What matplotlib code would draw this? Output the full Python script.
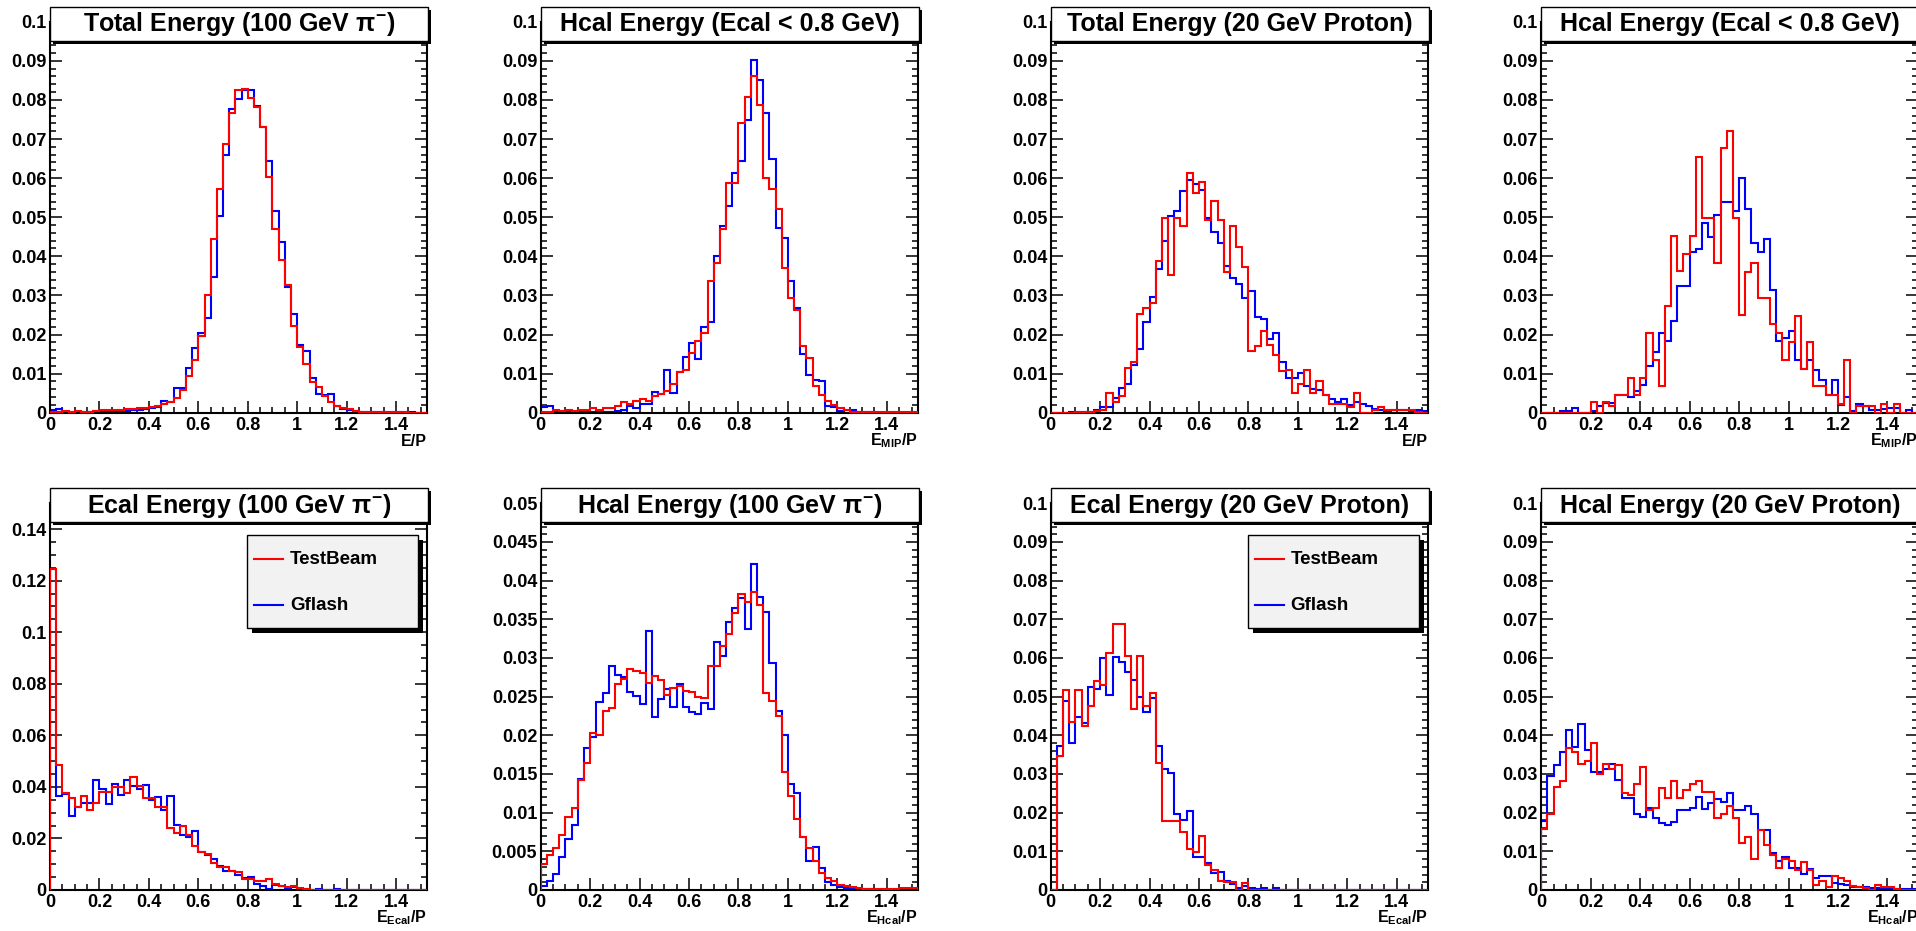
#!/usr/bin/env python3
"""
plot.py
=======
TestBeam vs Gflash response comparison, 8 normalised histograms
(100 GeV pi- and 20 GeV proton), drawn in a ROOT-like style.

Output
------
  out.png
"""
import numpy as np
import matplotlib as mpl
mpl.use("Agg")
import matplotlib.pyplot as plt
from matplotlib.patches import Rectangle
from matplotlib.lines import Line2D
from matplotlib.ticker import MultipleLocator, FuncFormatter

plt.rcParams["font.family"] = ["Liberation Sans", "DejaVu Sans"]
plt.rcParams["font.weight"] = "bold"
plt.rcParams["xtick.labelsize"] = 13
plt.rcParams["ytick.labelsize"] = 13
plt.rcParams["mathtext.fontset"] = "custom"
plt.rcParams["mathtext.rm"] = "Liberation Sans:bold"
plt.rcParams["mathtext.it"] = "Liberation Sans:bold"
plt.rcParams["mathtext.bf"] = "Liberation Sans:bold"
plt.rcParams["mathtext.sf"] = "Liberation Sans:bold"

# ---------------------------------------------------------------- binning
N_BINS = 61
BIN_WIDTH = 0.025
EDGES = np.arange(N_BINS + 1) * BIN_WIDTH

# ---------------------------------------------------------------- data
# top row, col 1: Total Energy (100 GeV pi-)
P1_GFLASH = [0.0008, 0.0010, 0.0002, 0.0003, 0.0002, 0.0002, 0.0003, 0.0003, 0.0002, 0.0003,
             0.0003, 0.0004, 0.0005, 0.0006, 0.0008, 0.0010, 0.0013, 0.0015, 0.0030, 0.0028,
             0.0062, 0.0062, 0.0115, 0.0166, 0.0205, 0.0243, 0.0348, 0.0503, 0.0658, 0.0778,
             0.0803, 0.0825, 0.0825, 0.0785, 0.0730, 0.0644, 0.0517, 0.0436, 0.0322, 0.0252,
             0.0172, 0.0157, 0.0090, 0.0048, 0.0045, 0.0047, 0.0016, 0.0009, 0.0006, 0.0004,
             0.0003, 0.0002, 0.0002, 0.0001, 0.0001, 0.0001, 0.0001, 0.0000, 0.0001, 0.0000, 0.0000]
P1_TESTBEAM = [0.0002, 0.0003, 0.0004, 0.0003, 0.0004, 0.0003, 0.0003, 0.0005, 0.0006, 0.0006,
               0.0007, 0.0008, 0.0010, 0.0010, 0.0011, 0.0013, 0.0015, 0.0018, 0.0022, 0.0028,
               0.0038, 0.0058, 0.0093, 0.0135, 0.0197, 0.0302, 0.0443, 0.0573, 0.0686, 0.0766,
               0.0825, 0.0828, 0.0806, 0.0782, 0.0730, 0.0604, 0.0471, 0.0390, 0.0327, 0.0222,
               0.0168, 0.0124, 0.0079, 0.0065, 0.0042, 0.0028, 0.0018, 0.0012, 0.0009, 0.0004,
               0.0003, 0.0002, 0.0002, 0.0002, 0.0001, 0.0001, 0.0001, 0.0001, 0.0000, 0.0000, 0.0000]

# top row, col 2: Hcal Energy (Ecal < 0.8 GeV), 100 GeV pi-
P2_GFLASH = [0.0015, 0.0018, 0.0003, 0.0003, 0.0003, 0.0003, 0.0003, 0.0003, 0.0003, 0.0003,
             0.0002, 0.0002, 0.0005, 0.0006, 0.0018, 0.0013, 0.0022, 0.0022, 0.0052, 0.0048,
             0.0109, 0.0051, 0.0103, 0.0143, 0.0177, 0.0137, 0.0219, 0.0232, 0.0400, 0.0477,
             0.0529, 0.0614, 0.0645, 0.0749, 0.0903, 0.0850, 0.0766, 0.0648, 0.0472, 0.0448,
             0.0336, 0.0267, 0.0150, 0.0097, 0.0084, 0.0082, 0.0018, 0.0015, 0.0005, 0.0008,
             0.0006, 0.0001, 0.0001, 0.0001, 0.0000, 0.0000, 0.0000, 0.0000, 0.0000, 0.0000, 0.0000]
P2_TESTBEAM = [0.0003, 0.0003, 0.0007, 0.0005, 0.0008, 0.0005, 0.0007, 0.0007, 0.0012, 0.0008,
               0.0012, 0.0012, 0.0017, 0.0028, 0.0022, 0.0030, 0.0035, 0.0030, 0.0042, 0.0047,
               0.0055, 0.0074, 0.0103, 0.0110, 0.0152, 0.0184, 0.0204, 0.0337, 0.0384, 0.0469,
               0.0587, 0.0588, 0.0740, 0.0807, 0.0861, 0.0786, 0.0601, 0.0572, 0.0521, 0.0370,
               0.0293, 0.0262, 0.0171, 0.0141, 0.0068, 0.0045, 0.0029, 0.0019, 0.0013, 0.0008,
               0.0003, 0.0002, 0.0001, 0.0001, 0.0001, 0.0001, 0.0002, 0.0002, 0.0001, 0.0001, 0.0002]

# top row, col 3: Total Energy (20 GeV Proton)
P3_GFLASH = [0.0000, 0.0000, 0.0000, 0.0002, 0.0003, 0.0003, 0.0002, 0.0007, 0.0015, 0.0015,
             0.0037, 0.0063, 0.0074, 0.0122, 0.0164, 0.0233, 0.0295, 0.0368, 0.0438, 0.0502,
             0.0515, 0.0567, 0.0594, 0.0584, 0.0570, 0.0497, 0.0461, 0.0435, 0.0375, 0.0345,
             0.0328, 0.0293, 0.0310, 0.0246, 0.0240, 0.0189, 0.0205, 0.0130, 0.0089, 0.0089,
             0.0102, 0.0068, 0.0060, 0.0057, 0.0046, 0.0035, 0.0028, 0.0035, 0.0019, 0.0027,
             0.0021, 0.0017, 0.0009, 0.0007, 0.0005, 0.0006, 0.0006, 0.0006, 0.0005, 0.0007, 0.0005]
P3_TESTBEAM = [0.0000, 0.0000, 0.0000, 0.0000, 0.0001, 0.0001, 0.0001, 0.0005, 0.0008, 0.0050,
               0.0028, 0.0043, 0.0114, 0.0130, 0.0253, 0.0268, 0.0281, 0.0387, 0.0498, 0.0352,
               0.0498, 0.0477, 0.0613, 0.0563, 0.0590, 0.0492, 0.0541, 0.0492, 0.0359, 0.0477,
               0.0425, 0.0373, 0.0158, 0.0170, 0.0209, 0.0173, 0.0148, 0.0107, 0.0108, 0.0050,
               0.0073, 0.0108, 0.0050, 0.0081, 0.0046, 0.0022, 0.0022, 0.0022, 0.0015, 0.0051,
               0.0000, 0.0000, 0.0008, 0.0015, 0.0007, 0.0008, 0.0008, 0.0008, 0.0008, 0.0002, 0.0000]

# top row, col 4: Hcal Energy (Ecal < 0.8 GeV), 20 GeV proton
P4_GFLASH = [0.0000, 0.0000, 0.0000, 0.0005, 0.0005, 0.0012, 0.0000, 0.0000, 0.0005, 0.0018,
             0.0025, 0.0025, 0.0045, 0.0045, 0.0040, 0.0055, 0.0070, 0.0120, 0.0155, 0.0205,
             0.0183, 0.0235, 0.0325, 0.0325, 0.0410, 0.0419, 0.0486, 0.0450, 0.0506, 0.0540,
             0.0540, 0.0515, 0.0600, 0.0520, 0.0435, 0.0410, 0.0445, 0.0315, 0.0183, 0.0190,
             0.0210, 0.0135, 0.0113, 0.0135, 0.0110, 0.0083, 0.0045, 0.0083, 0.0020, 0.0040,
             0.0005, 0.0022, 0.0018, 0.0008, 0.0008, 0.0009, 0.0013, 0.0013, 0.0000, 0.0008, 0.0000]
P4_TESTBEAM = [0.0000, 0.0000, 0.0000, 0.0000, 0.0000, 0.0000, 0.0000, 0.0000, 0.0027, 0.0000,
               0.0027, 0.0018, 0.0045, 0.0045, 0.0090, 0.0045, 0.0090, 0.0203, 0.0135, 0.0068,
               0.0272, 0.0451, 0.0363, 0.0406, 0.0451, 0.0655, 0.0497, 0.0497, 0.0384, 0.0676,
               0.0721, 0.0497, 0.0250, 0.0360, 0.0384, 0.0294, 0.0294, 0.0226, 0.0203, 0.0135,
               0.0181, 0.0248, 0.0113, 0.0180, 0.0068, 0.0068, 0.0045, 0.0045, 0.0022, 0.0136,
               0.0000, 0.0018, 0.0018, 0.0018, 0.0000, 0.0022, 0.0000, 0.0022, 0.0000, 0.0000, 0.0000]

# bottom row, col 1: Ecal Energy (100 GeV pi-)
P5_GFLASH = [0.1245, 0.0365, 0.0372, 0.0286, 0.0322, 0.0338, 0.0338, 0.0428, 0.0390, 0.0335,
             0.0410, 0.0368, 0.0425, 0.0405, 0.0390, 0.0408, 0.0348, 0.0360, 0.0310, 0.0365,
             0.0252, 0.0212, 0.0206, 0.0228, 0.0147, 0.0136, 0.0120, 0.0093, 0.0072, 0.0072,
             0.0060, 0.0046, 0.0050, 0.0022, 0.0017, 0.0005, 0.0018, 0.0014, 0.0008, 0.0010,
             0.0004, 0.0000, 0.0001, 0.0003, 0.0000, 0.0000, 0.0002, 0.0000, 0.0000, 0.0000,
             0.0000, 0.0000, 0.0000, 0.0000, 0.0000, 0.0000, 0.0000, 0.0000, 0.0000, 0.0000, 0.0000]
P5_TESTBEAM = [0.1245, 0.0484, 0.0377, 0.0355, 0.0322, 0.0363, 0.0309, 0.0337, 0.0380, 0.0380,
               0.0398, 0.0398, 0.0378, 0.0439, 0.0402, 0.0357, 0.0357, 0.0322, 0.0322, 0.0240,
               0.0222, 0.0247, 0.0212, 0.0172, 0.0148, 0.0138, 0.0104, 0.0088, 0.0088, 0.0072,
               0.0069, 0.0044, 0.0041, 0.0036, 0.0036, 0.0044, 0.0022, 0.0017, 0.0013, 0.0015,
               0.0008, 0.0003, 0.0000, 0.0000, 0.0000, 0.0000, 0.0000, 0.0000, 0.0000, 0.0000,
               0.0000, 0.0000, 0.0000, 0.0000, 0.0000, 0.0000, 0.0000, 0.0000, 0.0000, 0.0000, 0.0000]

# bottom row, col 2: Hcal Energy (100 GeV pi-)
P6_GFLASH = [0.0005, 0.0011, 0.0021, 0.0043, 0.0066, 0.0084, 0.0143, 0.0184, 0.0198, 0.0243,
             0.0255, 0.0290, 0.0278, 0.0275, 0.0256, 0.0251, 0.0240, 0.0335, 0.0224, 0.0247,
             0.0260, 0.0236, 0.0266, 0.0236, 0.0230, 0.0227, 0.0242, 0.0234, 0.0321, 0.0303,
             0.0347, 0.0364, 0.0377, 0.0338, 0.0421, 0.0379, 0.0359, 0.0294, 0.0231, 0.0200,
             0.0137, 0.0126, 0.0069, 0.0037, 0.0056, 0.0029, 0.0010, 0.0007, 0.0004, 0.0003,
             0.0002, 0.0001, 0.0001, 0.0001, 0.0000, 0.0000, 0.0000, 0.0000, 0.0000, 0.0000, 0.0000]
P6_TESTBEAM = [0.0033, 0.0045, 0.0054, 0.0071, 0.0095, 0.0106, 0.0142, 0.0164, 0.0203, 0.0201,
               0.0232, 0.0235, 0.0266, 0.0273, 0.0286, 0.0283, 0.0280, 0.0268, 0.0277, 0.0272,
               0.0252, 0.0261, 0.0264, 0.0257, 0.0256, 0.0250, 0.0248, 0.0289, 0.0289, 0.0316,
               0.0331, 0.0358, 0.0383, 0.0373, 0.0385, 0.0368, 0.0255, 0.0244, 0.0225, 0.0152,
               0.0121, 0.0092, 0.0069, 0.0054, 0.0038, 0.0022, 0.0016, 0.0011, 0.0006, 0.0005,
               0.0004, 0.0003, 0.0001, 0.0001, 0.0001, 0.0001, 0.0001, 0.0001, 0.0002, 0.0002, 0.0002]

# bottom row, col 3: Ecal Energy (20 GeV Proton)
P7_GFLASH = [0.0000, 0.0372, 0.0488, 0.0380, 0.0447, 0.0433, 0.0525, 0.0520, 0.0599, 0.0503,
             0.0602, 0.0589, 0.0563, 0.0544, 0.0498, 0.0461, 0.0496, 0.0372, 0.0312, 0.0302,
             0.0197, 0.0180, 0.0204, 0.0086, 0.0086, 0.0071, 0.0044, 0.0047, 0.0022, 0.0016,
             0.0005, 0.0010, 0.0005, 0.0003, 0.0005, 0.0000, 0.0004, 0.0000, 0.0000, 0.0000,
             0.0000, 0.0000, 0.0000, 0.0000, 0.0000, 0.0000, 0.0000, 0.0000, 0.0000, 0.0000,
             0.0000, 0.0000, 0.0000, 0.0000, 0.0000, 0.0000, 0.0000, 0.0000, 0.0000, 0.0000, 0.0000]
P7_TESTBEAM = [0.0000, 0.0347, 0.0518, 0.0434, 0.0518, 0.0423, 0.0476, 0.0541, 0.0531, 0.0614,
               0.0689, 0.0689, 0.0604, 0.0467, 0.0604, 0.0477, 0.0510, 0.0328, 0.0178, 0.0178,
               0.0178, 0.0149, 0.0106, 0.0097, 0.0139, 0.0064, 0.0051, 0.0022, 0.0020, 0.0020,
               0.0000, 0.0019, 0.0000, 0.0000, 0.0000, 0.0000, 0.0000, 0.0000, 0.0000, 0.0000,
               0.0000, 0.0000, 0.0000, 0.0000, 0.0000, 0.0000, 0.0000, 0.0000, 0.0000, 0.0000,
               0.0000, 0.0000, 0.0000, 0.0000, 0.0000, 0.0000, 0.0000, 0.0000, 0.0000, 0.0000, 0.0000]

# bottom row, col 4: Hcal Energy (20 GeV Proton)
P8_GFLASH = [0.0178, 0.0294, 0.0324, 0.0358, 0.0414, 0.0369, 0.0429, 0.0361, 0.0304, 0.0304,
             0.0314, 0.0327, 0.0285, 0.0238, 0.0238, 0.0197, 0.0188, 0.0213, 0.0186, 0.0174,
             0.0167, 0.0176, 0.0206, 0.0208, 0.0211, 0.0240, 0.0210, 0.0226, 0.0236, 0.0227,
             0.0251, 0.0206, 0.0206, 0.0216, 0.0196, 0.0154, 0.0154, 0.0096, 0.0075, 0.0085,
             0.0058, 0.0058, 0.0041, 0.0054, 0.0032, 0.0037, 0.0037, 0.0017, 0.0015, 0.0014,
             0.0008, 0.0009, 0.0008, 0.0004, 0.0004, 0.0004, 0.0004, 0.0003, 0.0003, 0.0003, 0.0003]
P8_TESTBEAM = [0.0158, 0.0197, 0.0266, 0.0282, 0.0366, 0.0357, 0.0327, 0.0334, 0.0381, 0.0301,
               0.0327, 0.0312, 0.0324, 0.0250, 0.0245, 0.0274, 0.0317, 0.0207, 0.0213, 0.0264,
               0.0237, 0.0282, 0.0237, 0.0258, 0.0274, 0.0282, 0.0253, 0.0253, 0.0186, 0.0197,
               0.0216, 0.0186, 0.0122, 0.0136, 0.0079, 0.0154, 0.0116, 0.0091, 0.0056, 0.0079,
               0.0076, 0.0052, 0.0072, 0.0053, 0.0013, 0.0022, 0.0008, 0.0036, 0.0030, 0.0022,
               0.0010, 0.0009, 0.0005, 0.0000, 0.0013, 0.0008, 0.0008, 0.0003, 0.0000, 0.0000, 0.0000]

TITLES = [r"Total Energy (100 GeV $\pi^{-}$)", "Hcal Energy (Ecal < 0.8 GeV)",
          "Total Energy (20 GeV Proton)", "Hcal Energy (Ecal < 0.8 GeV)",
          r"Ecal Energy (100 GeV $\pi^{-}$)", r"Hcal Energy (100 GeV $\pi^{-}$)",
          "Ecal Energy (20 GeV Proton)", "Hcal Energy (20 GeV Proton)"]
XLABELS = ["E/P", r"E$_{MIP}$/P", "E/P", r"E$_{MIP}$/P",
           r"E$_{Ecal}$/P", r"E$_{Hcal}$/P", r"E$_{Ecal}$/P", r"E$_{Hcal}$/P"]
GFLASH = [P1_GFLASH, P2_GFLASH, P3_GFLASH, P4_GFLASH,
          P5_GFLASH, P6_GFLASH, P7_GFLASH, P8_GFLASH]
TESTBEAM = [P1_TESTBEAM, P2_TESTBEAM, P3_TESTBEAM, P4_TESTBEAM,
            P5_TESTBEAM, P6_TESTBEAM, P7_TESTBEAM, P8_TESTBEAM]
# (ymax, major step, minor step) per panel
YAXES = [(0.1, 0.01, 0.002)] * 4 + [(0.15, 0.02, 0.005), (0.05, 0.005, 0.001),
                                    (0.1, 0.01, 0.002), (0.1, 0.01, 0.002)]
LEGEND_PANELS = [4, 6]
LEGEND_LABELS = ["TestBeam", "Gflash"]

# ---------------------------------------------------------------- layout (pixels)
W, H = 1916, 931
COL_LEFT = [50.0, 540.7, 1050.7, 1541.3]
FRAME_W = 377.0
ROW_TOP = [21.7, 503.3]
ROW_BOTTOM = [412.7, 890.0]
BLUE, RED = "#0000ff", "#ff0000"


def fx(px):
    return px / W


def fy(py):
    return 1.0 - py / H


def title_box(fig, left, top, text):
    x0, x1 = left, left + FRAME_W + 1
    y0, y1 = top - 15, top + 19
    fig.add_artist(Rectangle((fx(x0 + 3), fy(y1 + 3)), fx(x1 - x0), (y1 - y0) / H,
                             transform=fig.transFigure, facecolor="black",
                             edgecolor="none", zorder=5))
    fig.add_artist(Rectangle((fx(x0), fy(y1)), fx(x1 - x0), (y1 - y0) / H,
                             transform=fig.transFigure, facecolor="white",
                             edgecolor="black", linewidth=1.0, zorder=6))
    fig.text(fx((x0 + x1) / 2), fy(top + 2.5), text, ha="center", va="center",
             fontsize=18, fontweight="bold", zorder=7)


def legend_box(fig, left, top):
    x0, y0 = left + 197, top + 32
    bw, bh = 171, 93
    fig.add_artist(Rectangle((fx(x0 + 5), fy(y0 + bh + 5)), fx(bw), bh / H,
                             transform=fig.transFigure, facecolor="black",
                             edgecolor="none", zorder=5))
    fig.add_artist(Rectangle((fx(x0), fy(y0 + bh)), fx(bw), bh / H,
                             transform=fig.transFigure, facecolor="#f2f2f2",
                             edgecolor="black", linewidth=1.0, zorder=6))
    for k, (lab, col) in enumerate(zip(LEGEND_LABELS, [RED, BLUE])):
        yy = y0 + 24 + 46 * k
        fig.add_artist(Line2D([fx(x0 + 7), fx(x0 + 36)], [fy(yy), fy(yy)],
                              transform=fig.transFigure, color=col,
                              linewidth=1.5, zorder=7))
        fig.text(fx(x0 + 43), fy(yy), lab, ha="left", va="center",
                 fontsize=13.5, fontweight="bold", zorder=7)


def main():
    fig = plt.figure(figsize=(W / 100, H / 100), dpi=100)
    fmt = FuncFormatter(lambda v, p: f"{v:g}")

    for k in range(8):
        row, col = divmod(k, 4)
        left, top, bottom = COL_LEFT[col], ROW_TOP[row], ROW_BOTTOM[row]
        ax = fig.add_axes([fx(left), fy(bottom), fx(FRAME_W), (bottom - top) / H])

        ax.stairs(GFLASH[k], EDGES, color=BLUE, linewidth=1.5, zorder=2)
        ax.stairs(TESTBEAM[k], EDGES, color=RED, linewidth=1.5, zorder=3)

        ymax, major, minor = YAXES[k]
        ax.set_xlim(0, EDGES[-1])
        ax.set_ylim(0, ymax)
        ax.xaxis.set_major_locator(MultipleLocator(0.2))
        ax.xaxis.set_minor_locator(MultipleLocator(0.05))
        ax.yaxis.set_major_locator(MultipleLocator(major))
        ax.yaxis.set_minor_locator(MultipleLocator(minor))
        ax.xaxis.set_major_formatter(fmt)
        ax.yaxis.set_major_formatter(fmt)
        ax.tick_params(which="both", direction="in", top=True, right=True, width=1.1)
        ax.tick_params(which="major", length=8.3)
        ax.tick_params(which="minor", length=4.3)
        ax.tick_params(axis="y", pad=2.5)
        ax.tick_params(axis="x", pad=3.0)
        for sp in ax.spines.values():
            sp.set_linewidth(1.5)

        title_box(fig, left, top, TITLES[k])
        fig.text(fx(left + FRAME_W), fy(bottom + 33 - row), XLABELS[k],
                 ha="right", va="baseline", fontsize=11.5, fontweight="bold")
        if k in LEGEND_PANELS:
            legend_box(fig, left, top)

    fig.savefig("out.png", dpi=100)
    plt.close(fig)


if __name__ == "__main__":
    main()
